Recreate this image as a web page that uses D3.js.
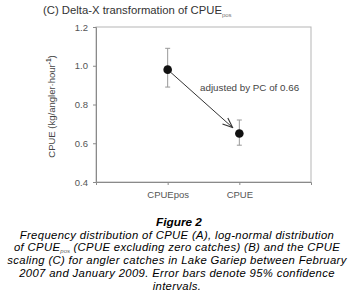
<!DOCTYPE html>
<html>
<head>
<meta charset="utf-8">
<script src="https://cdn.jsdelivr.net/npm/d3@7"></script>
<style>
  body { margin: 0; background: #fff; }
  svg { display: block; font-family: "Liberation Sans", Arial, sans-serif; }
</style>
</head>
<body>
<div id="chart"></div>
<script>
// values
const categories = ["CPUEpos", "CPUE"];
const means = [0.98, 0.65];
const lower = [0.89, 0.59];
const upper = [1.09, 0.72];
const yTicks = [0.4, 0.6, 0.8, 1.0, 1.2];
const arrowLabel = "adjusted by PC of 0.66";
const captionLines = [
    "Frequency distribution of CPUE (A), log-normal distribution",
    "of CPUE|pos| (CPUE excluding zero catches) (B) and the CPUE",
    "scaling (C) for angler catches in Lake Gariep between February",
    "2007 and January 2009. Error bars denote 95% confidence",
    "intervals."
];

const width = 358, height = 301;
const margin = {top: 27, right: 47, bottom: 119, left: 96};

const svg = d3.select("#chart")
    .append("svg")
    .attr("width", width)
    .attr("height", height);

const x = d3.scaleLinear()
    .domain([0, 3])
    .range([margin.left, width - margin.right]);

const y = d3.scaleLinear()
    .domain([0.4, 1.2])
    .range([height - margin.bottom, margin.top]);

// frame
svg.append("rect")
    .attr("x", x(0)).attr("y", y(1.2))
    .attr("width", x(3) - x(0)).attr("height", y(0.4) - y(1.2))
    .attr("fill", "none").attr("stroke", "#b5b5b5").attr("stroke-width", 1);

// y axis
const yAxis = svg.append("g")
    .attr("transform", `translate(${x(0)},0)`)
    .call(d3.axisLeft(y).tickValues(yTicks).tickFormat(d3.format(".1f")).tickSize(3).tickPadding(5));
yAxis.select(".domain").attr("stroke", "#8a8a8a");
yAxis.selectAll(".tick line").attr("stroke", "#8a8a8a");
yAxis.selectAll("text").attr("fill", "#555").style("font-size", "9.5px");

// x axis
const xAxis = svg.append("g")
    .attr("transform", `translate(0,${y(0.4)})`)
    .call(d3.axisBottom(x).tickValues([1, 2]).tickFormat(i => categories[i - 1]).tickSize(3).tickPadding(6));
xAxis.select(".domain").attr("stroke", "#8a8a8a");
xAxis.selectAll(".tick line").attr("stroke", "#8a8a8a");
xAxis.selectAll("text").attr("fill", "#555").style("font-size", "9.5px");

// error bars
const pts = categories.map((c, i) => ({c, i: i + 1, m: means[i], lo: lower[i], hi: upper[i]}));
const eb = svg.append("g").attr("stroke", "#999").attr("stroke-width", 1);
eb.selectAll(".v").data(pts).join("line")
    .attr("x1", d => x(d.i)).attr("x2", d => x(d.i))
    .attr("y1", d => y(d.lo)).attr("y2", d => y(d.hi));
eb.selectAll(".t").data(pts.flatMap(d => [d.lo, d.hi].map(v => ({i: d.i, v})))).join("line")
    .attr("x1", d => x(d.i) - 2.5).attr("x2", d => x(d.i) + 2.5)
    .attr("y1", d => y(d.v)).attr("y2", d => y(d.v));

// arrow between the two means
svg.append("defs").append("marker")
    .attr("id", "arr")
    .attr("viewBox", "0 0 12 10")
    .attr("refX", 11).attr("refY", 5)
    .attr("markerWidth", 12).attr("markerHeight", 10)
    .attr("orient", "auto")
    .attr("markerUnits", "userSpaceOnUse")
    .append("path")
    .attr("d", "M1,1 L11,5 L1,9")
    .attr("fill", "none").attr("stroke", "#333").attr("stroke-width", 1.1);

const x0 = x(1), y0 = y(means[0]), x1 = x(2), y1 = y(means[1]);
const len = Math.hypot(x1 - x0, y1 - y0);
const ux = (x1 - x0) / len, uy = (y1 - y0) / len;
svg.append("line")
    .attr("x1", x0 + ux * 4).attr("y1", y0 + uy * 4)
    .attr("x2", x1 - ux * 9).attr("y2", y1 - uy * 9)
    .attr("stroke", "#333").attr("stroke-width", 1)
    .attr("marker-end", "url(#arr)");

svg.append("text")
    .attr("x", 200).attr("y", 91)
    .attr("fill", "#444").style("font-size", "9.8px")
    .text(arrowLabel);

// points
svg.selectAll(".pt").data(pts).join("circle")
    .attr("cx", d => x(d.i)).attr("cy", d => y(d.m))
    .attr("r", 4.3).attr("fill", "#111");

// title
const title = svg.append("text")
    .attr("x", 43).attr("y", 14)
    .attr("fill", "#333").style("font-size", "11.3px");
title.append("tspan").text("(C) Delta-X transformation of CPUE");
title.append("tspan").attr("dy", 3).style("font-size", "6px").attr("fill", "#777").text("pos");

// y label
const yl = svg.append("text")
    .attr("transform", `translate(55,${(y(0.4) + y(1.2)) / 2 + 2}) rotate(-90)`)
    .attr("text-anchor", "middle")
    .attr("fill", "#444").style("font-size", "9.5px");
yl.append("tspan").text("CPUE (kg/angler·hour");
yl.append("tspan").attr("dy", -4).style("font-size", "6.5px").style("font-weight", "bold").text("-1");
yl.append("tspan").attr("dy", 4).text(")");

// caption
svg.append("text")
    .attr("x", 179).attr("y", 226)
    .attr("text-anchor", "middle")
    .style("font-size", "11.8px").style("font-weight", "bold").style("font-style", "italic")
    .text("Figure 2");

captionLines.forEach((line, k) => {
    const t = svg.append("text")
        .attr("x", 177).attr("y", 238.7 + k * 12.7)
        .attr("text-anchor", "middle")
        .style("font-size", "11.3px").style("font-style", "italic")
        .style("letter-spacing", "0.35px");
    const parts = line.split("|");
    parts.forEach((p, j) => {
        const ts = t.append("tspan").text(p);
        if (j === 1) ts.attr("dy", 2).style("font-size", "6px").style("letter-spacing", "0px").attr("fill", "#666");
        if (j === 2) ts.attr("dy", -2);
    });
});
</script>
</body>
</html>
